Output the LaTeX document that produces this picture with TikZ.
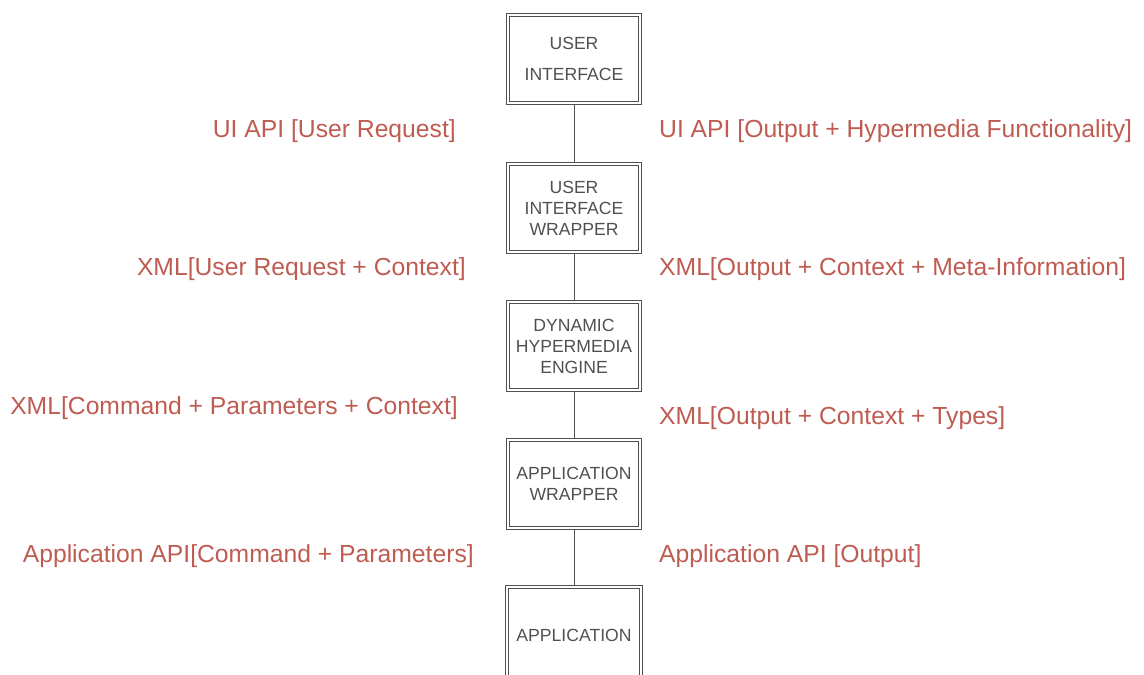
\documentclass[tikz,border=0pt]{standalone}
\usepackage{fontspec}
\setmainfont{Liberation Sans}
\usepackage{tikz}
\usetikzlibrary{positioning}

\definecolor{labelred}{RGB}{190,92,82}
\definecolor{boxgray}{RGB}{80,80,80}

\tikzset{
  layerbox/.style={draw=boxgray, line width=1pt,
    minimum width=135pt, minimum height=91pt, align=center, text=boxgray,
    font=\fontsize{17.6}{21}\selectfont},
  innerline/.style={draw=boxgray, line width=1pt},
  apilabel/.style={text=labelred, font=\fontsize{24.7}{29}\selectfont, inner sep=0pt},
  link/.style={draw=boxgray, line width=0.9pt}
}

\begin{document}
\begin{tikzpicture}[x=1pt,y=-1pt]
  \useasboundingbox (0,0) rectangle (1144,675);
  % layers
  \node[layerbox] (ui)   at (574,59)  {USER\\[10pt]INTERFACE};
  \node[layerbox] (uiw)  at (574,208) {USER\\INTERFACE\\WRAPPER};
  \node[layerbox] (dhe)  at (574,346) {DYNAMIC\\HYPERMEDIA\\ENGINE};
  \node[layerbox] (appw) at (574,484) {APPLICATION\\WRAPPER};
  \node[layerbox, minimum width=137pt, minimum height=100pt] (app) at (574,635) {APPLICATION};
  % inner frame of each box
  \foreach \n in {ui,uiw,dhe,appw,app}
    \draw[innerline] ([shift={(3.5pt,-3.5pt)}]\n.north west) rectangle ([shift={(-3.5pt,3.5pt)}]\n.south east);
  % links
  \draw[link] (ui) -- (uiw);
  \draw[link] (uiw) -- (dhe);
  \draw[link] (dhe) -- (appw);
  \draw[link] (appw) -- (app);
  % requests (left)
  \node[apilabel, anchor=east] (req1) at (456,131) {UI API [User Request]};
  \node[apilabel, anchor=east] (req2) at (466,269) {XML[User Request + Context]};
  \node[apilabel, anchor=east] (req3) at (458,408) {XML[Command + Parameters + Context]};
  \node[apilabel, anchor=east] (req4) at (474,556) {Application API[Command + Parameters]};
  % responses (right)
  \node[apilabel, anchor=west] (res1) at (659,131) {UI API [Output + Hypermedia Functionality]};
  \node[apilabel, anchor=west] (res2) at (659,269) {XML[Output + Context + Meta-Information]};
  \node[apilabel, anchor=west] (res3) at (659,418) {XML[Output + Context + Types]};
  \node[apilabel, anchor=west] (res4) at (659,556) {Application API [Output]};
\end{tikzpicture}
\end{document}
